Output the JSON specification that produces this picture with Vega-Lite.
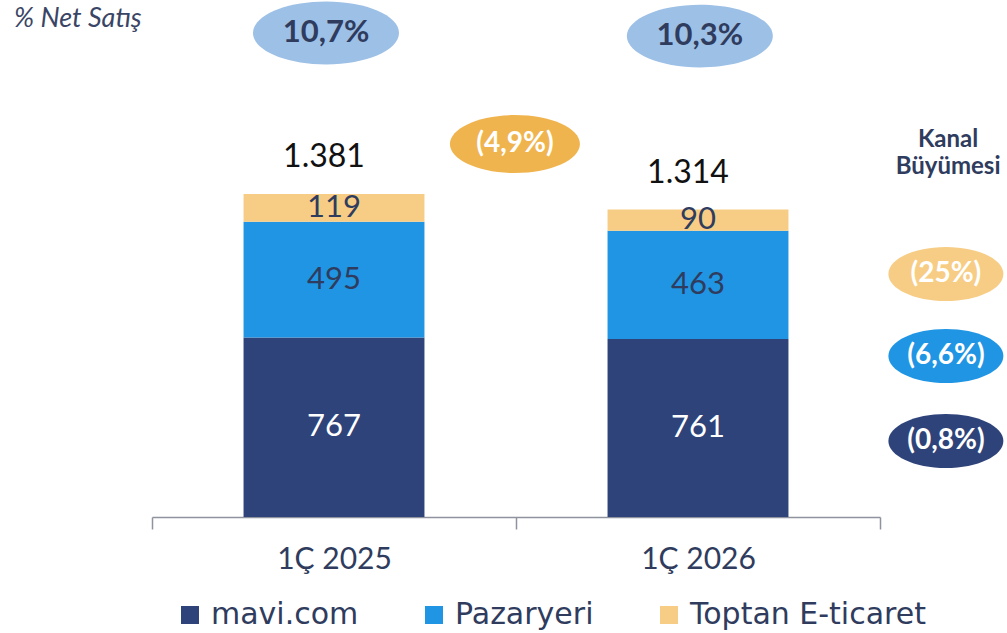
{
  "$schema": "https://vega.github.io/schema/vega-lite/v6.json",
  "width": 728,
  "height": 517,
  "autosize": {"type": "none"},
  "padding": {"left": 152, "top": 0, "right": 127, "bottom": 116},
  "background": "white",
  "config": {
    "view": {"stroke": null},
    "font": "Lato, sans-serif"
  },
  "datasets": {
    "bars": [
      {"period": "1Ç 2025", "channel": "mavi.com", "value": 767, "order": 1},
      {"period": "1Ç 2025", "channel": "Pazaryeri", "value": 495, "order": 2},
      {"period": "1Ç 2025", "channel": "Toptan E-ticaret", "value": 119, "order": 3},
      {"period": "1Ç 2026", "channel": "mavi.com", "value": 761, "order": 1},
      {"period": "1Ç 2026", "channel": "Pazaryeri", "value": 463, "order": 2},
      {"period": "1Ç 2026", "channel": "Toptan E-ticaret", "value": 90, "order": 3}
    ],
    "totals": [
      {"period": "1Ç 2025", "total": 1381, "label": "1.381"},
      {"period": "1Ç 2026", "total": 1314, "label": "1.314"}
    ],
    "notes": [
      {"label": "10,7%", "ax": 0.478, "ay": 2069, "kind": "top"},
      {"label": "10,3%", "ax": 1.505, "ay": 2056, "kind": "top"},
      {"label": "(4,9%)", "ax": 0.997, "ay": 1594, "kind": "mid"},
      {"label": "(25%)", "ax": 2.181, "ay": 1039, "kind": "r1"},
      {"label": "(6,6%)", "ax": 2.181, "ay": 688, "kind": "r2"},
      {"label": "(0,8%)", "ax": 2.181, "ay": 325, "kind": "r3"},
      {"label": "Kanal", "ax": 2.187, "ay": 1612, "kind": "head"},
      {"label": "Büyümesi", "ax": 2.187, "ay": 1497, "kind": "head"},
      {"label": "% Net Satış", "ax": -0.379, "ay": 2129, "kind": "corner"}
    ]
  },
  "layer": [
    {
      "data": {"name": "bars"},
      "transform": [
        {"stack": "value", "groupby": ["period"], "sort": [{"field": "order", "order": "ascending"}], "as": ["v0", "v1"]}
      ],
      "mark": {"type": "bar", "width": {"band": 0.497}},
      "encoding": {
        "x": {
          "field": "period", "type": "nominal",
          "scale": {"paddingInner": 0, "paddingOuter": 0},
          "axis": {
            "title": null, "labelAngle": 0, "domainColor": "#8F939E", "tickColor": "#8F939E",
            "domainWidth": 1.5, "tickWidth": 1.5, "tickSize": 12, "tickBand": "extent",
            "labelFontSize": 30, "labelColor": "#2F3C5E", "labelPadding": 15, "labelFont": "Lato, sans-serif"
          }
        },
        "y": {"field": "v0", "type": "quantitative", "scale": {"domain": [0, 2210], "nice": false}, "axis": null},
        "y2": {"field": "v1"},
        "color": {
          "field": "channel", "type": "nominal",
          "scale": {"domain": ["mavi.com", "Pazaryeri", "Toptan E-ticaret"], "range": ["#2E437A", "#1F95E4", "#F7CD85"]},
          "legend": {
            "orient": "none", "legendX": 23, "legendY": 600, "direction": "horizontal", "title": null,
            "symbolType": "square", "symbolSize": 324,
            "labelFontSize": 30, "labelColor": "#2F3C5E", "labelFont": "DejaVu Sans, sans-serif", "labelLimit": 400,
            "columnPadding": 60, "labelOffset": 6, "padding": 0
          }
        }
      }
    },
    {
      "data": {"name": "bars"},
      "transform": [
        {"stack": "value", "groupby": ["period"], "sort": [{"field": "order", "order": "ascending"}], "as": ["v0", "v1"]},
        {"calculate": "(datum.v0 + datum.v1) / 2", "as": "mid"}
      ],
      "mark": {"type": "text", "fontSize": 31, "baseline": "middle", "align": "center"},
      "encoding": {
        "x": {"field": "period", "type": "nominal", "scale": {"paddingInner": 0, "paddingOuter": 0}, "axis": null},
        "y": {"field": "mid", "type": "quantitative", "scale": {"domain": [0, 2210], "nice": false}, "axis": null},
        "text": {"field": "value", "type": "quantitative"},
        "color": {"condition": {"test": "datum.channel === 'mavi.com'", "value": "#FFFFFF"}, "value": "#2F3C5E"}
      }
    },
    {
      "data": {"name": "totals"},
      "mark": {"type": "text", "fontSize": 32, "baseline": "alphabetic", "align": "center", "dy": -27, "dx": -10, "color": "#111111"},
      "encoding": {
        "x": {"field": "period", "type": "nominal", "scale": {"paddingInner": 0, "paddingOuter": 0}, "axis": null},
        "y": {"field": "total", "type": "quantitative", "scale": {"domain": [0, 2210], "nice": false}, "axis": null},
        "text": {"field": "label", "type": "nominal"}
      }
    },
    {
      "data": {"name": "notes"},
      "transform": [{"filter": "datum.kind === 'top'"}],
      "mark": {"type": "point", "filled": true, "opacity": 1, "strokeWidth": 0, "color": "#9DC0E6", "size": 21316,
               "shape": "M-1,0A1,0.43,0,1,0,1,0A1,0.43,0,1,0,-1,0Z"},
      "encoding": {
        "x": {"field": "ax", "type": "quantitative", "scale": {"domain": [0, 2], "nice": false, "zero": false}, "axis": null},
        "y": {"field": "ay", "type": "quantitative", "scale": {"domain": [0, 2210], "nice": false}, "axis": null}
      }
    },
    {
      "data": {"name": "notes"},
      "transform": [{"filter": "datum.kind === 'mid'"}],
      "mark": {"type": "point", "filled": true, "opacity": 1, "strokeWidth": 0, "color": "#F0B44E", "size": 16900,
               "shape": "M-1,0A1,0.446,0,1,0,1,0A1,0.446,0,1,0,-1,0Z"},
      "encoding": {
        "x": {"field": "ax", "type": "quantitative", "scale": {"domain": [0, 2], "nice": false, "zero": false}, "axis": null},
        "y": {"field": "ay", "type": "quantitative", "scale": {"domain": [0, 2210], "nice": false}, "axis": null}
      }
    },
    {
      "data": {"name": "notes"},
      "transform": [{"filter": "datum.kind === 'r1'"}],
      "mark": {"type": "point", "filled": true, "opacity": 1, "strokeWidth": 0, "color": "#F7CD85", "size": 13225,
               "shape": "M-1,0A1,0.47,0,1,0,1,0A1,0.47,0,1,0,-1,0Z"},
      "encoding": {
        "x": {"field": "ax", "type": "quantitative", "scale": {"domain": [0, 2], "nice": false, "zero": false}, "axis": null},
        "y": {"field": "ay", "type": "quantitative", "scale": {"domain": [0, 2210], "nice": false}, "axis": null}
      }
    },
    {
      "data": {"name": "notes"},
      "transform": [{"filter": "datum.kind === 'r2'"}],
      "mark": {"type": "point", "filled": true, "opacity": 1, "strokeWidth": 0, "color": "#1F95E4", "size": 13225,
               "shape": "M-1,0A1,0.47,0,1,0,1,0A1,0.47,0,1,0,-1,0Z"},
      "encoding": {
        "x": {"field": "ax", "type": "quantitative", "scale": {"domain": [0, 2], "nice": false, "zero": false}, "axis": null},
        "y": {"field": "ay", "type": "quantitative", "scale": {"domain": [0, 2210], "nice": false}, "axis": null}
      }
    },
    {
      "data": {"name": "notes"},
      "transform": [{"filter": "datum.kind === 'r3'"}],
      "mark": {"type": "point", "filled": true, "opacity": 1, "strokeWidth": 0, "color": "#2E437A", "size": 13225,
               "shape": "M-1,0A1,0.47,0,1,0,1,0A1,0.47,0,1,0,-1,0Z"},
      "encoding": {
        "x": {"field": "ax", "type": "quantitative", "scale": {"domain": [0, 2], "nice": false, "zero": false}, "axis": null},
        "y": {"field": "ay", "type": "quantitative", "scale": {"domain": [0, 2210], "nice": false}, "axis": null}
      }
    },
    {
      "data": {"name": "notes"},
      "transform": [{"filter": "datum.kind === 'top'"}],
      "mark": {"type": "text", "fontSize": 31, "fontWeight": "bold", "color": "#2F3C5E", "baseline": "middle", "align": "center"},
      "encoding": {
        "x": {"field": "ax", "type": "quantitative", "scale": {"domain": [0, 2], "nice": false, "zero": false}, "axis": null},
        "y": {"field": "ay", "type": "quantitative", "scale": {"domain": [0, 2210], "nice": false}, "axis": null},
        "text": {"field": "label", "type": "nominal"}
      }
    },
    {
      "data": {"name": "notes"},
      "transform": [{"filter": "datum.kind === 'mid' || datum.kind === 'r1' || datum.kind === 'r2' || datum.kind === 'r3'"}],
      "mark": {"type": "text", "fontSize": 28, "fontWeight": "bold", "color": "#FFFFFF", "baseline": "middle", "align": "center"},
      "encoding": {
        "x": {"field": "ax", "type": "quantitative", "scale": {"domain": [0, 2], "nice": false, "zero": false}, "axis": null},
        "y": {"field": "ay", "type": "quantitative", "scale": {"domain": [0, 2210], "nice": false}, "axis": null},
        "text": {"field": "label", "type": "nominal"}
      }
    },
    {
      "data": {"name": "notes"},
      "transform": [{"filter": "datum.kind === 'head'"}],
      "mark": {"type": "text", "fontSize": 24, "fontWeight": "bold", "color": "#2F3C5E", "baseline": "middle", "align": "center"},
      "encoding": {
        "x": {"field": "ax", "type": "quantitative", "scale": {"domain": [0, 2], "nice": false, "zero": false}, "axis": null},
        "y": {"field": "ay", "type": "quantitative", "scale": {"domain": [0, 2210], "nice": false}, "axis": null},
        "text": {"field": "label", "type": "nominal"}
      }
    },
    {
      "data": {"name": "notes"},
      "transform": [{"filter": "datum.kind === 'corner'"}],
      "mark": {"type": "text", "fontSize": 27, "fontStyle": "italic", "color": "#3A4566", "baseline": "middle", "align": "left"},
      "encoding": {
        "x": {"field": "ax", "type": "quantitative", "scale": {"domain": [0, 2], "nice": false, "zero": false}, "axis": null},
        "y": {"field": "ay", "type": "quantitative", "scale": {"domain": [0, 2210], "nice": false}, "axis": null},
        "text": {"field": "label", "type": "nominal"}
      }
    }
  ],
  "resolve": {"scale": {"x": "independent"}}
}
